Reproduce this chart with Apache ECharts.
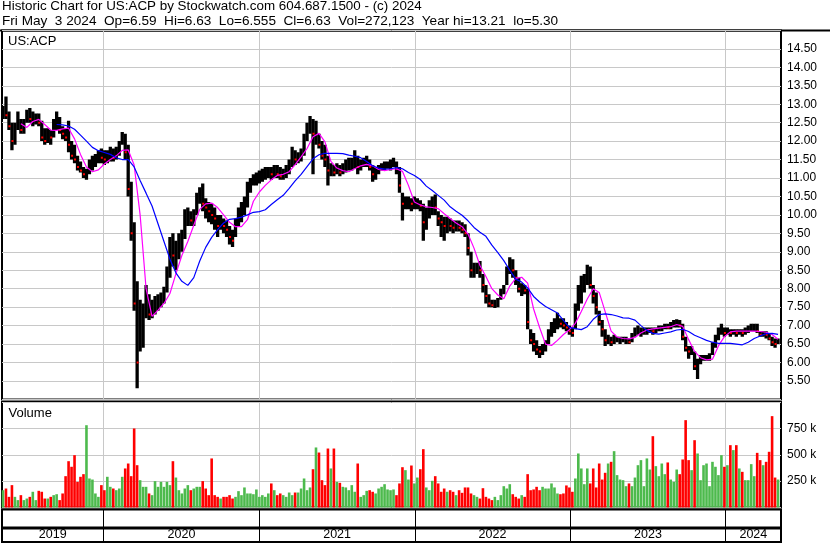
<!DOCTYPE html>
<html><head><meta charset="utf-8">
<script src="https://cdn.jsdelivr.net/npm/echarts@6/dist/echarts.min.js"></script>
<style>html,body{margin:0;padding:0;background:#fff}#c{width:830px;height:543px}</style>
</head><body><div id="c"></div>
<script>
// ---- data (weekly bars) ----
const titleLine1 = 'Historic Chart for US:ACP by Stockwatch.com 604.687.1500 - (c) 2024';
const titleLine2 = 'Fri May  3 2024  Op=6.59  Hi=6.63  Lo=6.555  Cl=6.63  Vol=272,123  Year hi=13.21  lo=5.30';
const symbolLabel = 'US:ACP';
const volumeLabel = 'Volume';
const firstWeekEnd = '2019-05-10';
const yearStartDates = ['2020-01-01','2021-01-01','2022-01-01','2023-01-01','2024-01-01'];

const lows = [
12.6,12.6,12.3,11.75,11.9,12.3,12.2,12.2,12.5,12.5,
12.4,12.45,12.4,12.0,11.9,11.95,11.9,12.1,12.3,12.2,
12.05,12.0,11.7,11.5,11.4,11.2,11.15,11.0,10.95,11.1,
11.2,11.3,11.4,11.4,11.35,11.4,11.45,11.45,11.5,11.6,
11.9,11.5,10.5,9.3,7.4,5.3,6.3,6.4,7.2,7.15,
7.2,7.3,7.4,7.5,7.6,7.9,8.3,8.6,8.5,8.8,
9.0,9.35,9.7,9.7,9.7,10.0,10.3,10.1,9.9,9.8,
9.75,9.6,9.4,9.6,9.5,9.4,9.2,9.13,9.4,9.7,
9.8,10.0,10.2,10.6,10.8,10.8,10.85,10.9,10.95,11.0,
10.95,11.0,11.0,10.95,10.95,11.0,11.1,11.3,11.35,11.4,
11.45,11.6,12.0,12.2,11.1,11.9,11.8,11.5,11.3,10.8,
11.05,11.05,11.1,11.05,11.1,11.15,11.2,11.2,11.25,11.1,
11.2,11.3,11.3,11.2,10.9,10.95,11.1,11.2,11.2,11.25,
11.2,11.3,11.1,10.6,9.85,10.15,10.15,10.1,10.15,10.15,
10.1,9.3,9.6,9.9,10.0,10.0,9.7,9.4,9.3,9.5,
9.55,9.5,9.55,9.55,9.5,9.4,8.9,8.3,8.3,8.4,
8.3,7.9,7.6,7.5,7.5,7.48,7.5,7.7,7.85,8.1,
8.4,8.3,8.1,7.9,7.8,7.85,6.9,6.5,6.3,6.2,
6.12,6.2,6.3,6.5,6.7,6.8,6.9,6.95,6.9,6.85,
6.75,6.7,6.9,7.4,7.6,7.9,8.1,8.0,7.6,7.3,
7.0,6.7,6.45,6.5,6.45,6.5,6.55,6.5,6.55,6.5,
6.5,6.55,6.7,6.75,6.7,6.75,6.75,6.8,6.75,6.8,
6.85,6.85,6.9,6.9,6.9,6.95,6.95,6.95,6.6,6.3,
6.1,6.2,5.8,5.55,5.95,6.05,6.05,6.05,6.2,6.4,
6.6,6.75,6.7,6.75,6.7,6.75,6.7,6.75,6.7,6.75,
6.8,6.85,6.85,6.8,6.7,6.7,6.65,6.6,6.45,6.4,
6.5];
const highs = [
12.95,13.21,12.8,12.5,12.5,12.8,12.6,12.6,12.85,12.9,
12.8,12.75,12.75,12.55,12.35,12.35,12.3,12.6,12.8,12.65,
12.4,12.35,12.55,12.0,11.9,11.6,11.45,11.3,11.25,11.5,
11.6,11.65,11.75,11.8,11.75,11.75,11.85,11.8,11.85,12.0,
12.25,12.2,11.9,10.9,9.8,8.2,7.7,7.6,8.1,7.85,
7.7,7.8,7.85,7.9,8.05,8.6,9.4,9.5,9.3,9.5,
9.6,10.15,10.2,10.1,10.15,10.6,10.75,10.85,10.45,10.35,
10.3,10.2,10.0,10.0,9.9,9.85,9.7,9.6,9.9,10.2,
10.35,10.5,10.9,11.0,11.1,11.15,11.2,11.25,11.3,11.3,
11.3,11.35,11.35,11.3,11.25,11.35,11.5,11.85,11.75,11.7,
11.8,12.2,12.5,12.68,12.6,12.55,12.2,12.0,11.9,11.6,
11.4,11.35,11.4,11.35,11.4,11.5,11.55,11.55,11.75,11.6,
11.5,11.55,11.6,11.5,11.35,11.3,11.35,11.4,11.45,11.45,
11.5,11.55,11.45,11.3,10.6,10.5,10.5,10.45,10.5,10.45,
10.4,10.3,10.2,10.4,10.5,10.55,10.1,10.0,9.95,9.95,
9.9,9.85,9.85,9.85,9.8,9.75,9.5,9.0,8.7,8.7,
8.75,8.4,8.1,7.85,7.7,7.7,7.75,8.0,8.1,8.6,
8.85,8.8,8.5,8.3,8.15,8.1,8.0,6.9,6.8,6.6,
6.45,6.5,6.6,6.9,7.1,7.2,7.35,7.2,7.2,7.1,
7.0,6.95,7.6,8.1,8.35,8.4,8.65,8.6,8.1,7.9,
7.4,7.15,6.9,6.75,6.7,6.75,6.7,6.7,6.7,6.7,
6.65,6.8,6.95,7.0,6.95,6.95,6.95,6.95,6.95,6.95,
7.0,7.0,7.05,7.05,7.1,7.15,7.17,7.15,7.05,6.7,
6.45,6.45,6.3,6.1,6.2,6.2,6.2,6.25,6.55,6.75,
6.95,7.05,6.95,6.95,6.9,6.9,6.9,6.9,6.9,6.95,
7.0,7.05,7.05,7.05,6.85,6.85,6.85,6.8,6.7,6.65,
6.65];
const closes = [
12.8,12.7,12.4,12.0,12.4,12.6,12.3,12.5,12.7,12.6,
12.6,12.6,12.5,12.1,12.0,12.2,12.1,12.5,12.5,12.3,
12.2,12.1,11.9,11.6,11.5,11.3,11.2,11.1,11.2,11.35,
11.4,11.5,11.6,11.55,11.5,11.6,11.6,11.55,11.7,11.85,
12.1,11.7,10.7,9.5,7.6,6.0,6.9,7.3,7.8,7.3,
7.35,7.6,7.6,7.7,7.9,8.4,9.0,8.9,8.9,9.3,
9.4,9.9,9.9,9.85,10.0,10.4,10.5,10.3,10.2,10.1,
10.0,9.9,9.7,9.8,9.7,9.6,9.4,9.3,9.7,10.0,
10.2,10.4,10.7,10.85,10.9,11.0,11.0,11.1,11.1,11.15,
11.1,11.2,11.1,11.05,11.1,11.2,11.35,11.6,11.5,11.55,
11.6,12.0,12.3,12.4,12.2,12.3,11.9,11.6,11.5,11.2,
11.2,11.15,11.2,11.15,11.25,11.3,11.4,11.4,11.45,11.3,
11.35,11.4,11.4,11.3,11.1,11.2,11.2,11.3,11.3,11.35,
11.35,11.4,11.25,10.8,10.3,10.3,10.35,10.3,10.3,10.3,
10.25,9.8,10.0,10.2,10.3,10.2,9.9,9.8,9.7,9.8,
9.7,9.65,9.7,9.65,9.6,9.5,9.1,8.5,8.5,8.6,
8.5,8.1,7.8,7.6,7.55,7.55,7.6,7.9,8.0,8.4,
8.6,8.5,8.3,8.0,8.0,7.95,7.1,6.6,6.5,6.35,
6.3,6.4,6.5,6.8,6.9,7.0,7.1,7.05,7.0,6.95,
6.85,6.8,7.4,7.9,7.9,8.2,8.5,8.1,7.8,7.5,
7.1,6.9,6.6,6.6,6.55,6.6,6.6,6.6,6.6,6.6,
6.55,6.7,6.85,6.85,6.85,6.85,6.85,6.9,6.85,6.9,
6.95,6.95,7.0,6.95,7.0,7.05,7.1,7.0,6.7,6.4,
6.3,6.3,5.9,5.9,6.1,6.1,6.15,6.15,6.45,6.6,
6.8,6.95,6.8,6.85,6.8,6.85,6.8,6.85,6.8,6.85,
6.9,6.95,6.95,6.85,6.75,6.8,6.75,6.65,6.55,6.5,
6.63];
const volumeK = [
164,180,101,212,101,70,117,70,85,101,
149,70,158,149,85,85,101,117,126,70,
133,297,439,386,496,243,291,316,780,275,
265,133,101,212,164,291,196,180,164,180,
291,370,417,297,749,401,259,196,196,133,
117,250,196,243,196,243,212,439,284,164,
133,180,212,164,180,196,196,250,180,117,
465,117,101,85,101,101,117,85,101,155,
117,190,133,133,126,171,101,117,101,133,
228,164,117,133,117,101,142,117,142,142,
180,275,164,190,363,569,521,259,212,559,
370,559,243,234,196,190,164,212,149,417,
101,117,158,164,149,133,180,196,221,171,
164,171,117,228,382,354,265,398,228,284,
363,553,190,164,253,297,228,149,180,149,
164,149,117,164,139,190,190,133,117,101,
85,183,101,85,70,101,70,117,202,180,
221,126,101,85,117,101,316,164,171,196,
164,196,180,180,228,190,133,126,133,209,
190,149,275,512,370,221,370,228,370,190,
417,265,329,417,433,534,307,265,259,202,
228,202,284,401,449,202,465,360,676,392,
297,417,316,427,265,243,360,316,455,828,
449,354,638,512,259,401,417,202,433,386,
307,496,386,401,591,544,591,370,338,259,
259,411,297,518,449,401,433,528,866,284,
265];
// moving averages, read every second week
const fastMaStartWeek = 6;
const fastMa = [
12.47,12.37,12.53,12.59,12.45,12.3,12.29,12.33,12.35,12.06,
11.64,11.3,11.17,11.22,11.38,11.5,11.6,11.75,11.76,11.35,
10.0,8.0,7.25,7.42,7.6,7.87,8.4,8.9,9.28,9.72,
10.15,10.3,10.32,10.2,10.0,9.8,9.68,9.68,9.87,10.37,
10.62,10.8,10.95,11.07,11.1,11.17,11.36,11.57,11.8,12.12,
12.21,11.98,11.45,11.27,11.2,11.17,11.25,11.33,11.37,11.33,
11.23,11.2,11.23,11.25,11.18,10.8,10.35,10.27,10.22,10.2,
10.17,10.03,9.9,9.78,9.68,9.48,9.1,8.63,8.33,8.0,
7.83,7.73,8.07,8.28,8.31,8.15,7.45,6.95,6.5,6.46,
6.6,6.76,6.89,7.06,7.38,7.72,8.0,7.9,7.38,6.85,
6.69,6.65,6.64,6.68,6.8,6.88,6.91,6.93,6.95,6.97,
7.03,6.98,6.62,6.3,6.13,6.07,6.09,6.45,6.7,6.83,
6.85,6.85,6.85,6.85,6.84,6.82,6.76,6.63];
const slowMaStartWeek = 18;
const slowMa = [
12.45,12.44,12.41,12.32,12.16,12.0,11.83,11.74,11.69,11.64,
11.55,11.5,11.5,11.3,10.93,10.59,10.24,9.76,9.28,8.8,
8.43,8.2,8.09,8.3,8.75,9.12,9.39,9.6,9.78,9.88,
9.9,9.94,10.0,10.07,10.09,10.14,10.28,10.41,10.53,10.72,
10.92,11.1,11.31,11.52,11.63,11.67,11.67,11.67,11.66,11.62,
11.59,11.55,11.45,11.33,11.27,11.24,11.25,11.28,11.25,11.15,
11.07,10.96,10.78,10.66,10.53,10.4,10.22,10.1,9.99,9.84,
9.66,9.53,9.42,9.18,8.98,8.76,8.5,8.26,8.18,8.02,
7.79,7.64,7.52,7.43,7.34,7.14,6.95,6.92,6.89,6.97,
7.17,7.3,7.32,7.3,7.26,7.21,7.2,7.15,7.0,6.87,
6.79,6.77,6.8,6.83,6.88,6.9,6.84,6.74,6.67,6.6,
6.55,6.52,6.52,6.52,6.5,6.48,6.55,6.65,6.72,6.78,
6.79,6.76];

// ---- build ----
const DAY = 86400000;
const t0 = Date.parse(firstWeekEnd);
const weekDates = closes.map((_, i) => t0 + i * 7 * DAY);
const axisStart = Date.UTC(2019, 4, 7, 16);
const axisEnd = Date.UTC(2024, 4, 9, 22);
const yearStarts = yearStartDates.map(d => Date.parse(d));
const bounds = [axisStart, ...yearStarts, axisEnd];
const yearMids = bounds.slice(0, -1).map((b, k) => (b + bounds[k + 1]) / 2);

const FONT = '"Liberation Sans", Arial, sans-serif';
const RED = '#ff0000', GREEN = '#4dba4d';
const isDown = i => i > 0 && closes[i] < closes[i - 1];

const priceData = weekDates.map((t, i) => [t, lows[i], highs[i], closes[i]]);
const closeMarkData = weekDates.map((t, i) => [t, closes[i]]).filter((_, i) => isDown(i));
const volData = weekDates.map((t, i) => ({ value: [t, volumeK[i] * 1000], itemStyle: { color: isDown(i) ? RED : GREEN } }));
const fastData = fastMa.map((v, k) => [weekDates[fastMaStartWeek + 2 * k], v]);
const slowData = slowMa.map((v, k) => [weekDates[slowMaStartWeek + 2 * k], v]);

const gridCommon = { left: 2, right: 49, show: true, borderColor: '#000', borderWidth: 2 };
function xAxisFor(gridIndex, splitColor, extra) {
  return Object.assign({
    type: 'value', gridIndex, min: axisStart, max: axisEnd,
    axisLine: { show: false },
    axisTick: { show: false, customValues: yearStarts },
    splitLine: { show: true, lineStyle: { color: splitColor, width: 1 } },
    axisLabel: { show: false }
  }, extra || {});
}
const txt = (size, lh) => ({ fontFamily: FONT, fontSize: size, fontWeight: 'normal', color: '#000', lineHeight: lh });

const chart = echarts.init(document.getElementById('c'), null, { renderer: 'canvas' });
chart.setOption({
  animation: false,
  backgroundColor: '#fff',
  title: [
    { text: titleLine1, left: 2, top: -1.9, padding: 0, textStyle: txt(13.4, 15.5) },
    { text: titleLine2, left: 2, top: 13.5, padding: 0, textStyle: txt(13.6, 15.5) },
    { text: symbolLabel, left: 8, top: 33.5, padding: 0, textStyle: txt(13, 15) },
    { text: volumeLabel, left: 8.5, top: 406, padding: 0, textStyle: txt(13, 15) }
  ],
  graphic: [
    { type: 'rect', shape: { x: 0, y: 29.4, width: 830, height: 2 }, style: { fill: '#000' }, silent: true }
  ],
  grid: [
    Object.assign({ top: 30.4, height: 369 }, gridCommon),
    Object.assign({ top: 402, height: 105.5 }, gridCommon),
    Object.assign({ top: 509.5, height: 18 }, gridCommon),
    Object.assign({ top: 528.5, height: 13.5 }, gridCommon)
  ],
  xAxis: [
    xAxisFor(0, '#c8c8c8'),
    xAxisFor(1, '#c8c8c8'),
    xAxisFor(2, '#000'),
    xAxisFor(3, '#000', {
      position: 'top',
      axisLabel: { show: true, inside: true, margin: 0, customValues: yearMids,
        formatter: v => String(new Date(v).getUTCFullYear()),
        fontFamily: FONT, fontSize: 12.5, color: '#000' }
    })
  ],
  yAxis: [
    { type: 'value', gridIndex: 0, position: 'right', min: 5, max: 15, interval: 0.5,
      axisLine: { show: false }, axisTick: { show: false },
      splitLine: { show: true, lineStyle: { color: '#c8c8c8', width: 1 } },
      axisLabel: { margin: 6, fontFamily: FONT, fontSize: 12, color: '#000', showMinLabel: false, showMaxLabel: false,
        padding: [0, 0, 3, 0], formatter: v => v.toFixed(2) } },
    { type: 'value', gridIndex: 1, position: 'right', min: 0, max: 1000000, interval: 250000,
      axisLine: { show: false }, axisTick: { show: false },
      splitLine: { show: true, lineStyle: { color: '#c8c8c8', width: 1 } },
      axisLabel: { margin: 6, fontFamily: FONT, fontSize: 12, color: '#000', showMinLabel: false, showMaxLabel: false,
        padding: [0, 0, 2, 0], formatter: v => (v / 1000) + ' k' } },
    { type: 'value', gridIndex: 2, min: 0, max: 1, show: false, splitLine: { show: false } },
    { type: 'value', gridIndex: 3, min: 0, max: 1, show: false, splitLine: { show: false } }
  ],
  series: [
    {
      type: 'custom', xAxisIndex: 0, yAxisIndex: 0, data: priceData, clip: true, z: 2,
      encode: { x: 0, y: [1, 2] },
      renderItem(params, api) {
        const t = api.value(0);
        const pLo = api.coord([t, api.value(1)]);
        const pHi = api.coord([t, api.value(2)]);
        return { type: 'rect', shape: { x: pHi[0] - 1.65, y: pHi[1], width: 3.3, height: Math.max(1, pLo[1] - pHi[1]) },
          style: { fill: '#000' } };
      }
    },
    {
      type: 'custom', xAxisIndex: 0, yAxisIndex: 0, data: closeMarkData, clip: true, z: 3,
      encode: { x: 0, y: 1 },
      renderItem(params, api) {
        const p = api.coord([api.value(0), api.value(1)]);
        return { type: 'rect', shape: { x: p[0] - 0.5, y: p[1] - 1, width: 2, height: 2 }, style: { fill: RED } };
      }
    },
    { type: 'line', xAxisIndex: 0, yAxisIndex: 0, data: fastData, symbol: 'none', z: 4,
      lineStyle: { color: '#ff00ff', width: 1.2 }, itemStyle: { color: '#ff00ff' } },
    { type: 'line', xAxisIndex: 0, yAxisIndex: 0, data: slowData, symbol: 'none', z: 4,
      lineStyle: { color: '#0000ff', width: 1.2 }, itemStyle: { color: '#0000ff' } },
    { type: 'bar', xAxisIndex: 1, yAxisIndex: 1, data: volData, barWidth: 2.6, z: 2 }
  ]
});
</script></body></html>
